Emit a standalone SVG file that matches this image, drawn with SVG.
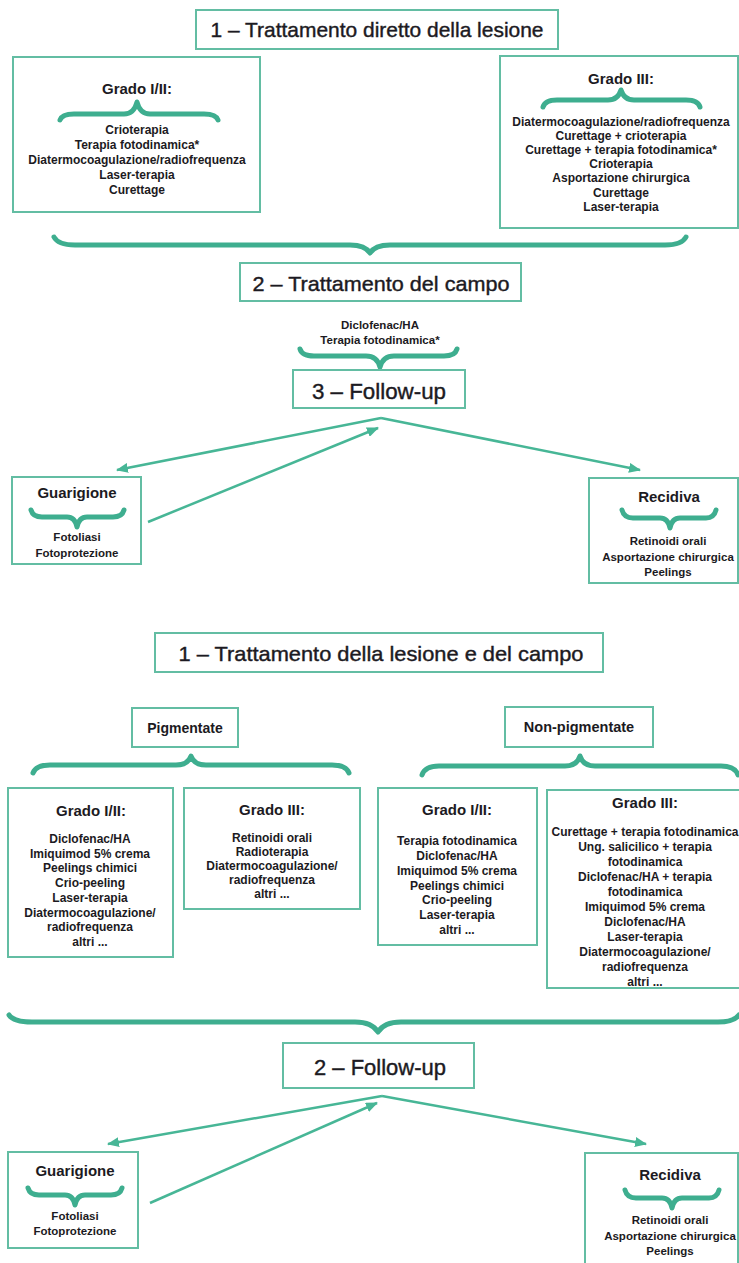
<svg xmlns="http://www.w3.org/2000/svg" width="739" height="1263" viewBox="0 0 739 1263">
<style>
.box{fill:#fff;stroke:#63bda3;stroke-width:2}
.brace{fill:none;stroke:#3eae8f;stroke-width:5;stroke-linecap:round;stroke-linejoin:round}
.conn{fill:none;stroke:#47b696;stroke-width:2.5;marker-end:url(#ah)}
text{font-family:"Liberation Sans",Arial,sans-serif;fill:#1c1a22;text-anchor:middle}
.h1{font-size:21px;stroke:#1c1a22;stroke-width:0.4}
.h2{font-size:15px;font-weight:bold}
.it{font-size:12px;font-weight:bold}
.is{font-size:11.5px;font-weight:bold}
</style>
<defs>
<marker id="ah" viewBox="0 0 12 10" refX="11" refY="5" markerWidth="4.8" markerHeight="4" orient="auto"><path d="M0,0 L12,5 L0,10 z" fill="#47b696"/></marker>
</defs>
<rect width="739" height="1263" fill="#fff"/>

<!-- SECTION 1 -->
<g id="t1"><rect class="box" x="196" y="10" width="362" height="39"/><text class="h1" x="377" y="37" textLength="333" lengthAdjust="spacingAndGlyphs">1 – Trattamento diretto della lesione</text></g>

<g id="g12a"><rect class="box" x="13" y="57" width="247" height="155"/>
<text class="h2" x="137" y="94">Grado I/II:</text>
<path class="brace" d="M60,120 Q62,114 74,114 L124,114 Q134,114 137,102 Q140,114 150,114 L204,114 Q216,114 218,120"/>
<text class="it" x="137" y="134">Crioterapia</text>
<text class="it" x="137" y="149">Terapia fotodinamica*</text>
<text class="it" x="137" y="164">Diatermocoagulazione/radiofrequenza</text>
<text class="it" x="137" y="179">Laser-terapia</text>
<text class="it" x="137" y="194">Curettage</text>
</g>

<g id="g3a"><rect class="box" x="500" y="56" width="238" height="172"/>
<text class="h2" x="621" y="84">Grado III:</text>
<path class="brace" d="M543,107 Q545,100 557,100 L608,100 Q618,100 621,90 Q624,100 634,100 L686,100 Q698,100 700,107"/>
<text class="it" x="621" y="126">Diatermocoagulazione/radiofrequenza</text>
<text class="it" x="621" y="140">Curettage + crioterapia</text>
<text class="it" x="621" y="154">Curettage + terapia fotodinamica*</text>
<text class="it" x="621" y="168">Crioterapia</text>
<text class="it" x="621" y="182">Asportazione chirurgica</text>
<text class="it" x="621" y="197">Curettage</text>
<text class="it" x="621" y="211">Laser-terapia</text>
</g>

<path class="brace" d="M54,237 Q58,245 75,245 L350,245 Q365,245 370,253 Q375,245 390,245 L665,245 Q682,245 686,237"/>

<g id="t2"><rect class="box" x="240" y="263" width="281" height="38"/><text class="h1" x="381" y="291" textLength="257" lengthAdjust="spacingAndGlyphs">2 – Trattamento del campo</text></g>

<g id="campo"><text class="is" x="380" y="329">Diclofenac/HA</text>
<text class="is" x="380" y="344">Terapia fotodinamica*</text>
<path class="brace" d="M300,349 Q302,356 314,356 L366,356 Q377,356 380,367 Q383,356 394,356 L444,356 Q455,356 457,349"/></g>

<g id="t3"><rect class="box" x="293" y="370" width="172" height="38"/><text class="h1" x="379" y="399" textLength="134" lengthAdjust="spacingAndGlyphs" style="font-size:22px">3 – Follow-up</text></g>

<g id="gua1"><rect class="box" x="12" y="477" width="129" height="87"/>
<text class="h2" x="77" y="498">Guarigione</text>
<path class="brace" d="M31,510 Q33,517 42,517 L67,517 Q75,517 77,527 Q79,517 87,517 L113,517 Q122,517 124,510"/>
<text class="is" x="77" y="541">Fotoliasi</text>
<text class="is" x="77" y="557">Fotoprotezione</text>
</g>

<g id="rec1"><rect class="box" x="589" y="478" width="149" height="105"/>
<text class="h2" x="669" y="502">Recidiva</text>
<path class="brace" d="M622,510 Q624,518 633,518 L660,518 Q668,518 670,528 Q672,518 680,518 L706,518 Q714,518 716,510"/>
<text class="is" x="668" y="545">Retinoidi orali</text>
<text class="is" x="668" y="561">Asportazione chirurgica</text>
<text class="is" x="668" y="576">Peelings</text>
</g>

<g id="conn1">
<path class="conn" d="M381,418 L117,470"/>
<path class="conn" d="M381,418 L640,470"/>
<path class="conn" d="M148,522 L378,428"/>
</g>

<!-- SECTION 2 -->
<g id="t4"><rect class="box" x="155" y="633" width="448" height="39"/><text class="h1" x="381" y="661" textLength="405" lengthAdjust="spacingAndGlyphs">1 – Trattamento della lesione e del campo</text></g>

<g id="pig"><rect class="box" x="132" y="708" width="106" height="39"/><text class="h2" x="185" y="733" style="font-size:14px">Pigmentate</text></g>
<g id="npig"><rect class="box" x="505" y="707" width="148" height="40"/><text class="h2" x="579" y="732" style="font-size:14.5px">Non-pigmentate</text></g>

<path class="brace" d="M33,773 Q36,765 50,765 L176,765 Q188,765 191,756 Q194,765 206,765 L332,765 Q346,765 349,773"/>
<path class="brace" d="M422,775 Q425,766 439,766 L565,766 Q577,766 580,756 Q583,766 595,766 L721,766 Q735,766 738,775"/>

<g id="g12p"><rect class="box" x="8" y="788" width="165" height="169"/>
<text class="h2" x="91" y="816">Grado I/II:</text>
<text class="it" x="90" y="843">Diclofenac/HA</text>
<text class="it" x="90" y="857.7">Imiquimod 5% crema</text>
<text class="it" x="90" y="872.4">Peelings chimici</text>
<text class="it" x="90" y="887.1">Crio-peeling</text>
<text class="it" x="90" y="901.8">Laser-terapia</text>
<text class="it" x="90" y="916.5">Diatermocoagulazione/</text>
<text class="it" x="90" y="931.2">radiofrequenza</text>
<text class="it" x="90" y="945.9">altri ...</text>
</g>

<g id="g3p"><rect class="box" x="184" y="788" width="176" height="121"/>
<text class="h2" x="272" y="815">Grado III:</text>
<text class="it" x="272" y="842">Retinoidi orali</text>
<text class="it" x="272" y="856">Radioterapia</text>
<text class="it" x="272" y="870">Diatermocoagulazione/</text>
<text class="it" x="272" y="884">radiofrequenza</text>
<text class="it" x="272" y="898">altri ...</text>
</g>

<g id="g12n"><rect class="box" x="378" y="788" width="159" height="157"/>
<text class="h2" x="457" y="815">Grado I/II:</text>
<text class="it" x="457" y="845">Terapia fotodinamica</text>
<text class="it" x="457" y="860">Diclofenac/HA</text>
<text class="it" x="457" y="875">Imiquimod 5% crema</text>
<text class="it" x="457" y="890">Peelings chimici</text>
<text class="it" x="457" y="904">Crio-peeling</text>
<text class="it" x="457" y="919">Laser-terapia</text>
<text class="it" x="457" y="934">altri ...</text>
</g>

<g id="g3n"><rect class="box" x="547" y="790" width="195" height="198"/>
<text class="h2" x="645" y="808">Grado III:</text>
<text class="it" x="645" y="836">Curettage + terapia fotodinamica</text>
<text class="it" x="645" y="851">Ung. salicilico + terapia</text>
<text class="it" x="645" y="866">fotodinamica</text>
<text class="it" x="645" y="881">Diclofenac/HA + terapia</text>
<text class="it" x="645" y="896">fotodinamica</text>
<text class="it" x="645" y="911">Imiquimod 5% crema</text>
<text class="it" x="645" y="926">Diclofenac/HA</text>
<text class="it" x="645" y="941">Laser-terapia</text>
<text class="it" x="645" y="956">Diatermocoagulazione/</text>
<text class="it" x="645" y="971">radiofrequenza</text>
<text class="it" x="645" y="986">altri ...</text>
</g>

<path class="brace" d="M9,1015 Q14,1022 32,1022 L355,1022 Q372,1022 378,1032 Q384,1022 401,1022 L718,1022 Q734,1022 739,1015"/>

<g id="t5"><rect class="box" x="283" y="1043" width="191" height="45"/><text class="h1" x="380" y="1075" textLength="132" lengthAdjust="spacingAndGlyphs" style="font-size:22px">2 – Follow-up</text></g>

<g id="gua2"><rect class="box" x="8" y="1152" width="130" height="96"/>
<text class="h2" x="75" y="1176">Guarigione</text>
<path class="brace" d="M28,1188 Q30,1195 39,1195 L65,1195 Q73,1195 75,1205 Q77,1195 85,1195 L111,1195 Q120,1195 122,1188"/>
<text class="is" x="75" y="1220">Fotoliasi</text>
<text class="is" x="75" y="1235">Fotoprotezione</text>
</g>

<g id="rec2"><rect class="box" x="585" y="1153" width="153" height="115"/>
<text class="h2" x="670" y="1180">Recidiva</text>
<path class="brace" d="M625,1190 Q627,1198 636,1198 L662,1198 Q670,1198 672,1208 Q674,1198 682,1198 L709,1198 Q717,1198 719,1190"/>
<text class="is" x="670" y="1224">Retinoidi orali</text>
<text class="is" x="670" y="1240">Asportazione chirurgica</text>
<text class="is" x="670" y="1255">Peelings</text>
</g>

<g id="conn2">
<path class="conn" d="M382,1096 L108,1144"/>
<path class="conn" d="M382,1096 L646,1144"/>
<path class="conn" d="M150,1203 L377,1103"/>
</g>
</svg>
